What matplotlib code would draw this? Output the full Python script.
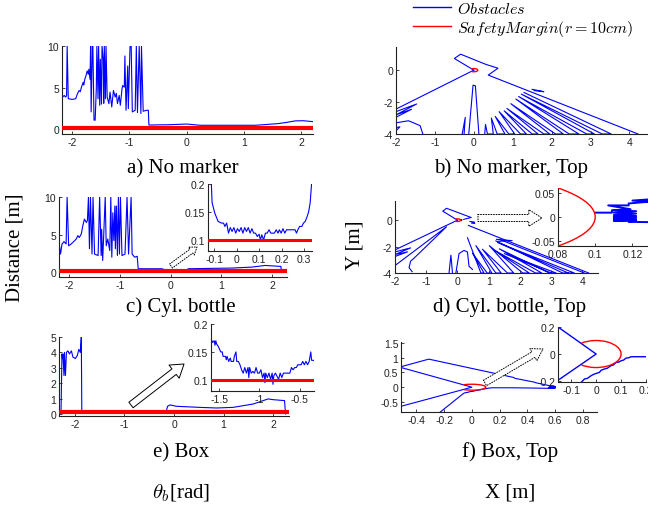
import numpy as np
import matplotlib.pyplot as plt
from matplotlib.patches import Arc, FancyArrowPatch
from matplotlib.lines import Line2D
from matplotlib.ticker import FuncFormatter

plt.rcParams['font.family'] = 'Liberation Sans'
plt.rcParams['mathtext.fontset'] = 'cm'
plt.rcParams['axes.unicode_minus'] = False

# safety margin (m) and half field of view (deg)
margin = 0.1
fov_deg = 126

# ---- a) no marker: (theta [rad], distance [m])
a_scan = [(-2.19, 2.46), (-2.17, 3.85), (-2.14, 4.05), (-2.12, 3.85), (-2.10, 4.0), (-2.09, 10),
          (-2.07, 3.65), (-2.00, 3.57), (-1.94, 3.65), (-1.91, 4.25), (-1.88, 4.64), (-1.86, 4.5),
          (-1.84, 5.04), (-1.81, 5.63), (-1.80, 5.3), (-1.78, 6.03), (-1.76, 6.43), (-1.74, 7.0),
          (-1.72, 6.6), (-1.71, 7.2), (-1.69, 6.0), (-1.68, 10), (-1.67, 2.06), (-1.65, 10),
          (-1.64, 10), (-1.62, 1.07), (-1.60, 1.07), (-1.58, 4.84), (-1.57, 10), (-1.55, 3.65),
          (-1.54, 10), (-1.52, 2.86), (-1.51, 8.4), (-1.49, 3.0), (-1.48, 10), (-1.46, 8.4),
          (-1.45, 3.1), (-1.44, 10), (-1.42, 3.65), (-1.41, 10), (-1.39, 3.85), (-1.36, 3.06),
          (-1.34, 4.44), (-1.31, 2.66), (-1.28, 4.64), (-1.25, 3.85), (-1.23, 4.3), (-1.21, 3.06),
          (-1.18, 4.05), (-1.16, 2.86), (-1.13, 4.84), (-1.12, 5.24), (-1.09, 5.04), (-1.08, 8.8),
          (-1.06, 2.26), (-1.03, 7.6), (-1.02, 2.46), (-0.99, 10), (-0.97, 10), (-0.95, 2.06),
          (-0.90, 2.26), (-0.88, 10), (-0.86, 1.98), (-0.83, 10), (-0.80, 1.87), (-0.79, 10),
          (-0.76, 2.14), (-0.70, 2.26), (-0.67, 2.26), (-0.66, 0.48), (-0.50, 0.5), (-0.30, 0.52),
          (0.0, 0.6), (0.24, 0.45), (0.60, 0.45), (1.20, 0.45), (1.40, 0.55), (1.60, 0.65),
          (1.75, 0.8), (1.90, 0.98), (2.04, 1.0), (2.19, 0.9), (2.21, 0.9)]

# ---- c) cylindrical bottle
c_scan_left = [(-2.24, 0), (-2.22, 3.74), (-2.19, 3.5), (-2.17, 2.4), (-2.14, 3.74), (-2.10, 4.05),
               (-2.06, 3.74), (-2.04, 10), (-2.01, 3.5), (-1.96, 3.74), (-1.86, 4.4), (-1.83, 4.85),
               (-1.80, 4.6), (-1.76, 5.1), (-1.73, 6.2), (-1.70, 7.05), (-1.66, 6.6), (-1.64, 6.9),
               (-1.62, 10), (-1.60, 3.1), (-1.58, 10), (-1.55, 2.4), (-1.53, 10), (-1.50, 2.4),
               (-1.43, 2.2), (-1.40, 10), (-1.37, 2.2), (-1.36, 5.7), (-1.34, 1.54), (-1.32, 4.85),
               (-1.29, 10), (-1.27, 3.5), (-1.24, 4.4), (-1.20, 2.86), (-1.18, 10), (-1.16, 1.98),
               (-1.14, 7.9), (-1.12, 4.2), (-1.10, 8.8), (-1.09, 3.1), (-1.07, 8.8), (-1.05, 2.2),
               (-1.03, 10), (-1.01, 2.4), (-0.99, 10), (-0.96, 2.2), (-0.90, 2.4), (-0.86, 10),
               (-0.83, 2.4), (-0.78, 10), (-0.76, 2.4), (-0.71, 1.98), (-0.66, 2.1), (-0.64, 0.44),
               (-0.17, 0.44)]
c_scan_zoom = [(-0.116, 0.3), (-0.112, 0.2), (-0.109, 0.167), (-0.097, 0.148), (-0.082, 0.133),
               (-0.067, 0.13), (-0.058, 0.13), (-0.052, 0.124), (-0.044, 0.13), (-0.036, 0.112),
               (-0.028, 0.122), (-0.020, 0.115), (-0.012, 0.122), (-0.004, 0.112), (0.004, 0.12),
               (0.012, 0.115), (0.020, 0.122), (0.028, 0.112), (0.036, 0.122), (0.044, 0.115),
               (0.052, 0.122), (0.060, 0.112), (0.068, 0.12), (0.076, 0.112), (0.084, 0.112),
               (0.092, 0.106), (0.100, 0.11), (0.106, 0.1), (0.112, 0.109), (0.120, 0.1),
               (0.128, 0.112), (0.136, 0.112), (0.144, 0.118), (0.152, 0.112), (0.160, 0.112),
               (0.168, 0.112), (0.176, 0.118), (0.184, 0.112), (0.190, 0.118), (0.198, 0.112),
               (0.206, 0.12), (0.214, 0.112), (0.222, 0.118), (0.230, 0.118), (0.240, 0.118),
               (0.250, 0.118), (0.260, 0.118), (0.266, 0.112), (0.272, 0.118), (0.280, 0.124),
               (0.290, 0.124), (0.297, 0.13), (0.305, 0.133), (0.312, 0.14), (0.320, 0.15),
               (0.327, 0.167), (0.333, 0.2), (0.336, 0.3)]
c_scan_right = [(0.34, 0.44), (1.2, 0.53), (1.6, 0.66), (1.86, 0.88), (2.05, 0.8), (2.17, 0.75),
                (2.18, 0.0)]

# ---- e) box
e_scan_left = [(-2.28, 0), (-2.26, 3.9), (-2.25, 3.6), (-2.24, 3.9), (-2.22, 2.5), (-2.21, 4.0),
               (-2.19, 2.5), (-2.17, 4.0), (-2.14, 4.1), (-2.11, 3.9), (-2.07, 4.1), (-2.04, 3.7),
               (-1.99, 3.6), (-1.95, 3.8), (-1.92, 4.2), (-1.89, 4.0), (-1.87, 5.0), (-1.86, 0.22),
               (-1.70, 0.2), (-1.62, 0.18)]
e_scan_zoom = [(-1.58, 0.167), (-1.56, 0.17), (-1.55, 0.162), (-1.54, 0.17), (-1.53, 0.164),
               (-1.51, 0.16), (-1.50, 0.157), (-1.48, 0.15), (-1.46, 0.15), (-1.45, 0.142),
               (-1.42, 0.142), (-1.41, 0.136), (-1.40, 0.142), (-1.38, 0.133), (-1.36, 0.139),
               (-1.35, 0.133), (-1.32, 0.133), (-1.31, 0.142), (-1.29, 0.15), (-1.28, 0.133),
               (-1.26, 0.133), (-1.24, 0.127), (-1.22, 0.118), (-1.20, 0.112), (-1.18, 0.122),
               (-1.16, 0.112), (-1.14, 0.122), (-1.13, 0.104), (-1.12, 0.122), (-1.10, 0.112),
               (-1.08, 0.115), (-1.06, 0.112), (-1.04, 0.122), (-1.02, 0.112), (-1.00, 0.112),
               (-0.98, 0.118), (-0.96, 0.104), (-0.94, 0.112), (-0.93, 0.095), (-0.92, 0.112),
               (-0.90, 0.104), (-0.88, 0.112), (-0.86, 0.101), (-0.84, 0.112), (-0.83, 0.092),
               (-0.82, 0.107), (-0.80, 0.112), (-0.76, 0.101), (-0.74, 0.112), (-0.72, 0.104),
               (-0.70, 0.112), (-0.66, 0.112), (-0.62, 0.112), (-0.60, 0.122), (-0.58, 0.118),
               (-0.56, 0.122), (-0.54, 0.122), (-0.52, 0.127), (-0.48, 0.127), (-0.46, 0.133),
               (-0.44, 0.127), (-0.42, 0.133), (-0.40, 0.127), (-0.38, 0.133), (-0.36, 0.15),
               (-0.35, 0.135), (-0.33, 0.135)]
e_scan_right = [(-0.25, 0.13), (-0.16, 0.12), (-0.13, 0.5), (-0.08, 0.59), (0.05, 0.5), (0.52, 0.43),
                (0.86, 0.39), (1.19, 0.43), (1.6, 0.65), (1.8, 0.87), (1.9, 0.98), (2.0, 0.93),
                (2.23, 0.87), (2.25, 0.0)]

# ---- b) top view, no marker: obstacle polylines (X, Y) [m]
b_obstacles = [
    [(0.0, 0.0), (-0.5, 0.73), (-0.34, 1.0), (0.3, 0.37), (0.62, 0.12), (0.37, -0.31), (4.22, -4.0)],
    [(0.0, 0.0), (-2.0, -2.44)],
    [(-2.0, -2.6), (-1.47, -2.12), (-2.0, -2.8), (-1.6, -2.45), (-2.0, -2.95)],
    [(-2.0, -3.3), (-1.68, -3.17), (-1.55, -3.3), (-1.38, -3.48), (-1.31, -4.0)],
    [(-2.0, -3.6), (-1.9, -3.55), (-2.0, -3.8)],
    [(-0.13, -4.0), (-0.02, -0.94), (0.04, -0.98), (0.13, -4.0)],
    [(-0.3, -4.0), (-0.22, -2.96), (-0.25, -4.0)],
    [(1.5, -1.2), (1.8, -1.35), (1.55, -1.28)],
    [(1.29, -1.40), (3.53, -4.0), (3.3, -4.0), (1.22, -1.5), (3.1, -4.0), (2.9, -4.0), (1.15, -1.65),
     (2.7, -4.0), (2.45, -4.0), (1.08, -1.81), (2.3, -4.0), (2.1, -4.0), (0.95, -2.1), (1.95, -4.0),
     (1.8, -4.0), (0.85, -2.4), (1.65, -4.0), (1.5, -4.0), (0.78, -2.55), (1.35, -4.0), (1.2, -4.0),
     (0.65, -2.6), (1.05, -4.0), (0.9, -4.0), (0.55, -2.9), (0.8, -4.0), (0.6, -4.0), (0.45, -3.0),
     (0.5, -4.0), (0.35, -4.0), (0.3, -3.4), (0.28, -4.0)],
]

# ---- d) top view, cylindrical bottle
d_obstacles = [
    [(0.0, 0.0), (-0.47, 0.68), (-0.35, 0.9), (0.44, 0.2), (0.2, 0.06)],
    [(0.4, -0.1), (0.55, -0.15), (0.45, -0.22), (0.55, -0.25)],
    [(0.35, -0.4), (4.2, -4.0)],
    [(1.25, -1.45), (1.75, -1.55), (1.3, -1.6)],
    [(0.0, 0.0), (-2.0, -2.25)],
    [(-2.0, -2.4), (-1.5, -2.1), (-2.0, -2.6), (-1.6, -2.4), (-2.0, -2.75)],
    [(-1.98, -3.4), (-0.35, -0.5), (-1.4, -2.9), (-1.5, -3.1), (-1.55, -3.6), (-1.45, -3.9)],
    [(-0.27, -4.0), (-0.21, -2.65), (-0.16, -4.0)],
    [(-0.05, -4.0), (0.05, -2.53), (0.21, -2.29), (0.32, -2.41), (0.37, -3.49), (0.48, -3.73)],
    [(0.32, -1.33), (0.75, -4.0), (0.85, -4.0), (0.48, -2.5), (0.95, -4.0), (1.1, -4.0), (0.59, -1.93),
     (1.23, -4.0), (1.4, -4.0), (0.8, -2.2), (1.6, -4.0), (1.8, -4.0), (1.02, -1.93), (2.09, -4.0),
     (2.3, -4.0), (1.2, -2.3), (2.5, -4.0), (2.7, -4.0), (1.34, -2.17), (2.94, -4.0), (3.16, -4.0),
     (1.5, -2.53), (3.0, -4.0)],
    [(1.23, -1.57), (3.37, -4.0), (3.74, -4.0), (1.28, -1.69), (3.55, -4.0)],
    [(1.34, -1.45), (4.06, -4.0)],
    [(0.1, 0.009), (0.109, 0.009), (0.109, 0.014), (0.119, 0.016), (0.107, 0.024), (0.118, 0.024),
     (0.118, 0.028), (0.13, 0.032), (0.12, 0.034), (0.135, 0.038)],
    [(0.11, 0.014), (0.122, 0.012), (0.11, 0.009), (0.122, 0.007), (0.11, 0.004), (0.122, 0.002),
     (0.11, 0.0), (0.122, -0.002), (0.11, -0.004), (0.122, -0.006), (0.11, -0.008), (0.122, -0.007),
     (0.118, -0.010), (0.135, -0.011)],
]

# ---- f) top view, box
f_obstacles = [
    [(-0.52, 0.68), (-0.31, 0.95), (0.3, 0.33), (0.31, 0.30), (0.45, 0.17), (0.46, 0.15), (0.59, 0.02)],
    [(-0.52, 0.68), (0.0, 0.0), (-0.52, -0.66)],
    [(-0.23, -0.85), (-0.06, -0.21), (-0.047, -0.185), (-0.035, -0.18), (-0.02, -0.16),
     (-0.007, -0.148), (0.013, -0.136), (0.02, -0.12), (0.033, -0.111), (0.045, -0.105),
     (0.06, -0.086), (0.07, -0.08), (0.08, -0.062), (0.09, -0.06), (0.1, -0.05), (0.11, -0.045),
     (0.12, -0.03), (0.13, -0.028), (0.14, -0.02), (0.193, -0.02), (0.3, -0.02), (0.45, -0.03),
     (0.56, -0.04), (0.6, -0.03), (0.55, -0.01), (0.6, 0.0), (0.56, 0.02), (0.6, 0.02)],
]

W, H = 648, 506
fig = plt.figure(figsize=(W / 100, H / 100), dpi=100)


def box(x0, y0, x1, y1):
    # pixel box -> figure fraction rect
    return [x0 / W, 1 - y1 / H, (x1 - x0) / W, (y1 - y0) / H]


def setup(ax, xlim, ylim, xticks, yticks):
    ax.set_xlim(xlim)
    ax.set_ylim(ylim)
    ax.set_xticks(xticks)
    ax.set_yticks(yticks)
    for s in ['top', 'right']:
        ax.spines[s].set_visible(False)
    for s in ['left', 'bottom']:
        ax.spines[s].set_linewidth(0.8)
        ax.spines[s].set_color('#222222')
    ax.tick_params(direction='in', length=2.5, width=0.6, labelsize=7.5, pad=2, colors='#222222')
    fmt = FuncFormatter(lambda v, p: '%g' % v)
    ax.xaxis.set_major_formatter(fmt)
    ax.yaxis.set_major_formatter(fmt)
    ax.patch.set_alpha(0)


def dist_plot(ax, pieces, red_lw=3):
    t, d = np.concatenate([np.array(p) for p in pieces]).T
    ax.plot(t, d, color='blue', lw=0.8)
    ax.axhline(margin, color='red', lw=red_lw, zorder=3)


def top_plot(ax, segments, lw=0.8):
    for seg in segments:
        x, y = np.array(seg).T
        ax.plot(x, y, color='blue', lw=lw)
    ax.add_patch(Arc((0, 0), 2 * margin, 2 * margin, theta1=-fov_deg, theta2=fov_deg,
                     color='red', lw=1, zorder=3))


# a)
ax_a = fig.add_axes(box(62, 47, 313, 135))
dist_plot(ax_a, [a_scan])
setup(ax_a, (-2.18, 2.21), (-0.6, 10), [-2, -1, 0, 1, 2], [0, 5, 10])

# b)
ax_b = fig.add_axes(box(396, 48, 647, 135))
top_plot(ax_b, b_obstacles)
setup(ax_b, (-2, 4.45), (-4, 1.45), [-2, -1, 0, 1, 2, 3, 4], [-4, -2, 0])

# c)
ax_c = fig.add_axes(box(59, 198, 287, 278))
dist_plot(ax_c, [c_scan_left, c_scan_zoom, c_scan_right])
setup(ax_c, (-2.2, 2.29), (-0.66, 10), [-2, -1, 0, 1, 2], [0, 5, 10])

ax_ci = fig.add_axes(box(208, 185, 312, 252))
dist_plot(ax_ci, [c_scan_left, c_scan_zoom, c_scan_right], red_lw=2.2)
setup(ax_ci, (-0.127, 0.335), (0.08, 0.2), [-0.1, 0, 0.1, 0.2, 0.3], [0.1, 0.15, 0.2])

# d)
ax_d = fig.add_axes(box(395, 202, 598, 274))
top_plot(ax_d, d_obstacles)
setup(ax_d, (-2, 4.5), (-4, 1.45), [-2, -1, 0, 1, 2, 3, 4], [-4, -2, 0])

ax_di = fig.add_axes(box(558, 189, 651, 247))
top_plot(ax_di, d_obstacles, lw=1.4)
setup(ax_di, (0.08, 0.13), (-0.06, 0.06), [0.08, 0.1, 0.12], [-0.05, 0, 0.05])

# e)
ax_e = fig.add_axes(box(59, 338, 289, 417))
dist_plot(ax_e, [e_scan_left, e_scan_zoom, e_scan_right])
setup(ax_e, (-2.32, 2.32), (-0.13, 5), [-2, -1, 0, 1, 2], [0, 1, 2, 3, 4, 5])

ax_ei = fig.add_axes(box(211, 325, 314, 392))
dist_plot(ax_ei, [e_scan_left, e_scan_zoom, e_scan_right], red_lw=2.2)
setup(ax_ei, (-1.6, -0.32), (0.08, 0.2), [-1.5, -1, -0.5], [0.1, 0.15, 0.2])

# f)
ax_f = fig.add_axes(box(401, 343, 597, 413))
top_plot(ax_f, f_obstacles)
setup(ax_f, (-0.51, 0.9), (-0.84, 1.53), [-0.4, -0.2, 0, 0.2, 0.4, 0.6, 0.8],
      [-0.5, 0, 0.5, 1, 1.5])

ax_fi = fig.add_axes(box(558, 328, 646, 383))
top_plot(ax_fi, f_obstacles, lw=1)
setup(ax_fi, (-0.153, 0.2), (-0.207, 0.2), [-0.1, 0, 0.1, 0.2], [-0.2, 0, 0.2])

# zoom arrows
arrows = [((171, 267), (197, 248), 3.5, 7, 5, ':'),
          ((478, 219), (542, 219), 5, 12, 9.5, ':'),
          ((131, 406), (184, 365), 5, 12, 9, '-'),
          ((485, 384), (543, 350), 4.5, 10, 8, ':')]
for (xa, ya), (xb, yb), tw, hw, hl, ls in arrows:
    fig.patches.append(FancyArrowPatch(
        (xa / W, 1 - ya / H), (xb / W, 1 - yb / H), transform=fig.transFigure,
        arrowstyle='simple,head_length=%g,head_width=%g,tail_width=%g' % (hl, hw, tw),
        mutation_scale=1, shrinkA=0, shrinkB=0, fc='white', ec='black', lw=0.7, ls=ls))

# captions (x centre, baseline in pixels)
serif = 'Liberation Serif'
captions = [(183, 173, 'a) No marker'), (511, 173, 'b) No marker, Top'),
            (181, 312, 'c) Cyl. bottle'), (510, 312, 'd) Cyl. bottle, Top'),
            (181, 457, 'e) Box'), (510, 457, 'f) Box, Top'),
            (181, 498, r'$\theta_b$[rad]'), (510, 498, 'X [m]')]
for x, y, s in captions:
    fig.text(x / W, 1 - y / H, s, family=serif, fontsize=15, ha='center', va='baseline')
fig.text(15 / W, 1 - 248 / H, 'Distance [m]', family=serif, fontsize=15, rotation=90,
         ha='center', va='center')
fig.text(355 / W, 1 - 245 / H, 'Y [m]', family=serif, fontsize=15, rotation=90,
         ha='center', va='center')

# legend
handles = [Line2D([], [], color='blue', lw=1), Line2D([], [], color='red', lw=1)]
fig.legend(handles, ['$Obstacles$', '$SafetyMargin(r=10cm)$'], loc='upper left',
           bbox_to_anchor=(411 / W, 1.0), frameon=False, fontsize=11.5, handlelength=2.4,
           handletextpad=0.35, labelspacing=0.15, borderaxespad=0, borderpad=0.1)

fig.savefig('out.png', dpi=100)
